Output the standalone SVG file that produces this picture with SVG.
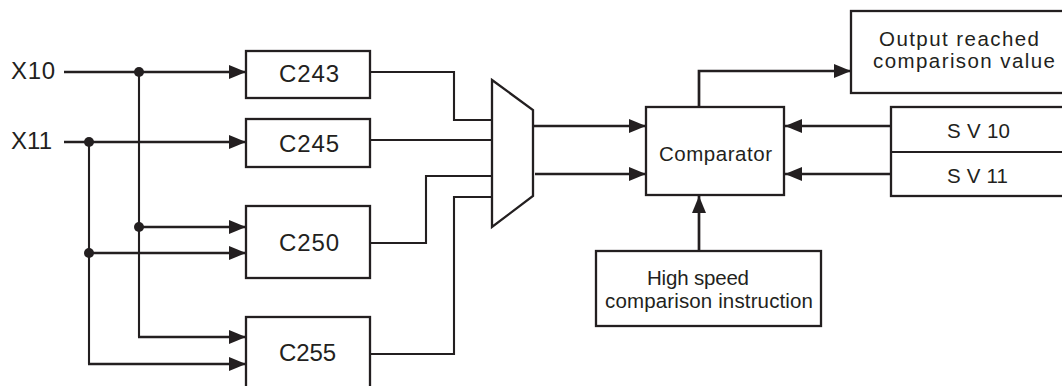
<svg xmlns="http://www.w3.org/2000/svg" width="1062" height="386" viewBox="0 0 1062 386">
<style>
  .box { fill: #fff; stroke: #231f20; stroke-width: 2.3; }
  .w { fill: none; stroke: #231f20; stroke-width: 2.1; }
  .a { fill: none; stroke: #231f20; stroke-width: 2.7; marker-end: url(#arr); }
  .dot { fill: #231f20; }
  .t { font-family: "Liberation Sans", Arial, sans-serif; fill: #231f20; }
  .big { font-size: 24px; }
  .sm { font-size: 20.5px; }
</style>
<defs>
  <marker id="arr" markerUnits="userSpaceOnUse" markerWidth="17" markerHeight="14" refX="17" refY="7" orient="auto">
    <path d="M0,0 L17,7 L0,14 z" fill="#231f20"/>
  </marker>
</defs>
<rect width="1062" height="386" fill="#fff"/>

<g id="connectors">
  <line class="a" x1="64" y1="72" x2="246" y2="72"/>
  <line class="a" x1="64" y1="142" x2="246" y2="142"/>
  <line class="w" x1="139" y1="72" x2="139" y2="337"/>
  <line class="w" x1="89" y1="142" x2="89" y2="364"/>
  <line class="a" x1="139" y1="227" x2="246" y2="227"/>
  <line class="a" x1="89" y1="253" x2="246" y2="253"/>
  <line class="a" x1="138" y1="337" x2="246" y2="337"/>
  <line class="a" x1="88" y1="364" x2="246" y2="364"/>
  <circle class="dot" cx="139" cy="72" r="5"/>
  <circle class="dot" cx="89" cy="142" r="5"/>
  <circle class="dot" cx="139" cy="227" r="5"/>
  <circle class="dot" cx="89" cy="253" r="5"/>
  <polyline class="w" points="370,72 454,72 454,120 492,120"/>
  <line class="w" x1="370" y1="140" x2="492" y2="140"/>
  <polyline class="w" points="370,243 426,243 426,176 492,176"/>
  <polyline class="w" points="370,354 454,354 454,197 492,197"/>
  <line class="a" x1="533" y1="126" x2="646" y2="126"/>
  <line class="a" x1="535" y1="174" x2="646" y2="174"/>
  <polyline class="a" points="699,107 699,71 851,71"/>
  <line class="a" x1="891" y1="126" x2="785" y2="126"/>
  <line class="a" x1="891" y1="174" x2="785" y2="174"/>
  <line class="a" x1="699" y1="251" x2="699" y2="196"/>
</g>

<g id="X10"><text class="t big" x="11" y="79" textLength="44" lengthAdjust="spacing">X10</text></g>
<g id="X11"><text class="t big" x="11" y="149" textLength="41" lengthAdjust="spacing">X11</text></g>

<g id="C243">
  <rect class="box" x="246" y="51" width="124" height="47"/>
  <text class="t big" x="279" y="82" textLength="60" lengthAdjust="spacing">C243</text>
</g>
<g id="C245">
  <rect class="box" x="246" y="119" width="124" height="48"/>
  <text class="t big" x="279" y="152" textLength="60" lengthAdjust="spacing">C245</text>
</g>
<g id="C250">
  <rect class="box" x="246" y="206" width="124" height="72"/>
  <text class="t big" x="279" y="251" textLength="60" lengthAdjust="spacing">C250</text>
</g>
<g id="C255">
  <rect class="box" x="246" y="317" width="124" height="80"/>
  <text class="t big" x="279" y="361" textLength="57" lengthAdjust="spacing">C255</text>
</g>

<g id="mux">
  <polygon class="box" points="492,80 533,110 533,196 492,227"/>
</g>

<g id="comparator">
  <rect class="box" x="646" y="107" width="138" height="88"/>
  <text class="t sm" x="659" y="161" textLength="113" lengthAdjust="spacing">Comparator</text>
</g>

<g id="output">
  <rect class="box" x="851" y="11" width="220" height="82"/>
  <text class="t sm" x="879" y="46" textLength="160" lengthAdjust="spacing">Output reached</text>
  <text class="t sm" x="873" y="68" textLength="182" lengthAdjust="spacing">comparison value</text>
</g>

<g id="sv">
  <rect class="box" x="891" y="107" width="180" height="89"/>
  <line class="w" x1="891" y1="152" x2="1071" y2="152" stroke-width="2.5"/>
  <text class="t sm" x="947" y="138" textLength="63" lengthAdjust="spacing">S V 10</text>
  <text class="t sm" x="947" y="183" textLength="61" lengthAdjust="spacing">S V 11</text>
</g>

<g id="instruction">
  <rect class="box" x="596" y="251" width="225" height="75"/>
  <text class="t sm" x="647" y="285" textLength="102" lengthAdjust="spacing">High speed</text>
  <text class="t sm" x="605" y="308" textLength="208" lengthAdjust="spacing">comparison instruction</text>
</g>
</svg>
